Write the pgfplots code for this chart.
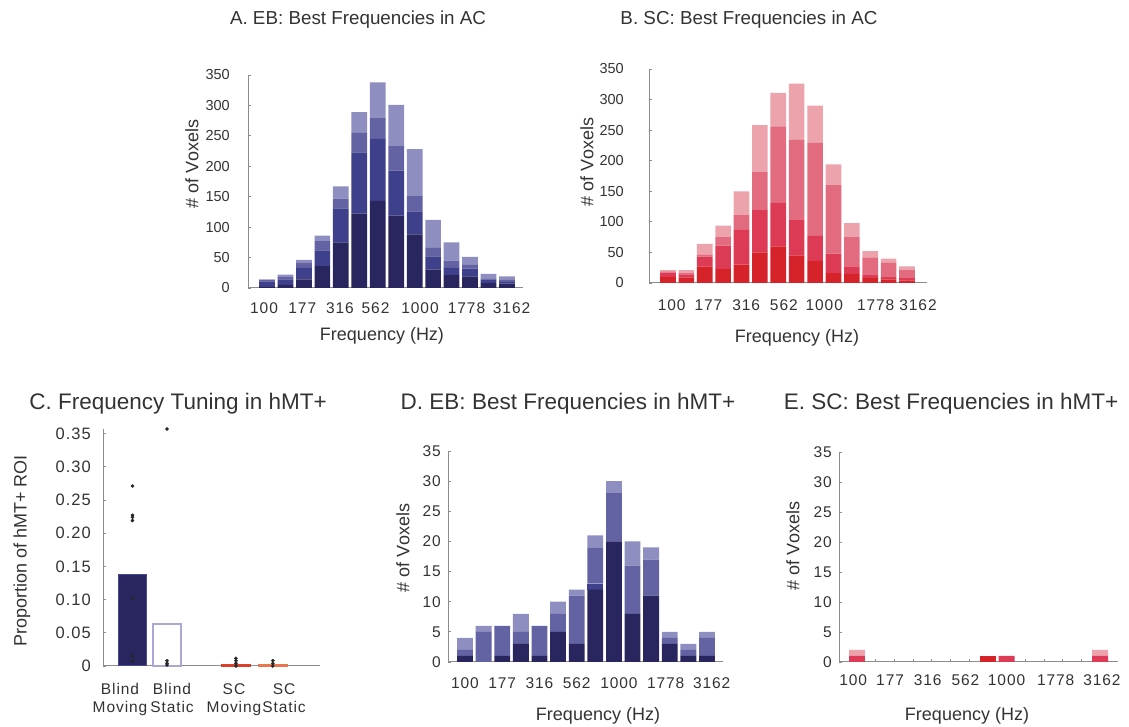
\documentclass[border=0pt]{standalone}
\usepackage{pgfplots}
\pgfplotsset{compat=1.18}
\usepackage{pgfplotstable}
\usepackage{fontspec}
\setmainfont{Liberation Sans}
\newfontfamily\tickfont[LetterSpace=6]{Liberation Sans}

\definecolor{ebA}{HTML}{29255F}
\definecolor{ebB}{HTML}{3F408B}
\definecolor{ebC}{HTML}{6362A2}
\definecolor{ebD}{HTML}{8E8EC1}
\definecolor{scA}{HTML}{D62229}
\definecolor{scB}{HTML}{DD3B55}
\definecolor{scC}{HTML}{E36B7F}
\definecolor{scD}{HTML}{ECA3AC}
\definecolor{axgray}{HTML}{8C8C8C}
\definecolor{txt}{HTML}{333333}
\definecolor{bmedge}{HTML}{4A4A94}
\definecolor{bsedge}{HTML}{A9A8D6}
\definecolor{scm}{HTML}{D9402C}
\definecolor{scs}{HTML}{E8774F}

\pgfplotstableread{
x a b c d
0 2 9 2 1
1 5 9 4 4
2 14 19 9 4
3 36 26 15 9
4 75 56 16 20
5 122 101 32 34
6 143 102 34 59
7 119 74 40 68
8 88 38 25 77
9 30 22 14 46
10 21 12 12 30
11 19 13 6 13
12 8 6 2 7
13 7 3 4 5
}\dataA

\pgfplotstableread{
x a b c d
0 10 7 2 2
1 9 5 3 4
2 27 16 3 18
3 23 38 15 18
4 30 57 25 38
5 50 69 63 76
6 60 71 125 55
7 45 59 130 92
8 36 41 152 61
9 16 32 113 33
10 15 11 49 23
11 8 6 28 10
12 6 5 22 7
13 4 4 14 5
}\dataB

\pgfplotstableread{
x a b c d
0 1 0 1 2
1 0 0 5 1
2 1 0 5 0
3 3 0 2 3
4 1 0 5 0
5 5 0 3 2
6 3 0 8 1
7 12 1 6 2
8 20 0 8 2
9 8 0 8 4
10 11 0 6 2
11 3 0 1 1
12 1 0 1 1
13 1 0 3 1
}\dataD

\pgfplotstableread{
x a b c d
0 0 1 0 1
1 0 0 0 0
2 0 0 0 0
3 0 0 0 0
4 0 0 0 0
5 0 0 0 0
6 0 0 0 0
7 1 0 0 0
8 0 1 0 0
9 0 0 0 0
10 0 0 0 0
11 0 0 0 0
12 0 0 0 0
13 0 1 0 1
}\dataE

\pgfplotsset{
  base/.style={
    scale only axis, anchor=south west,
    enlargelimits=false,
    axis lines=left,
    axis line style={-, draw=axgray, line width=1pt},
    tick align=inside, major tick length=3pt, minor tick length=3pt,
    tick style={draw=axgray, line width=0.8pt},
    major x tick style={draw=none},
    ymin=0,
    tick label style={font=\tickfont\fontsize{15.5}{18}\selectfont, text=txt},
    yticklabel style={anchor=east, inner sep=0pt},
  },
  hist/.style={
    base,
    ybar stacked, bar width=0.85,
    minor xtick={0,...,13},
    xticklabel style={anchor=base, inner sep=0pt},
    xticklabels={100,177,316,562,1000,1778,3162},
  },
  narrowy/.style={
    yticklabel style={font=\fontsize{14.5}{17}\selectfont},
  },
}

\newcommand{\titlefontA}{\fontsize{18.8}{22}\selectfont}
\newcommand{\titlefontB}{\fontsize{22.5}{26}\selectfont}
\newcommand{\labfont}{\fontsize{18}{21}\selectfont}

\begin{document}
\begin{tikzpicture}
\useasboundingbox (0pt,0pt) rectangle (1129pt,727pt);

% ---------- A ----------
\begin{axis}[hist, narrowy,
  at={(248pt,439pt)}, width=275pt, height=213pt,
  xmin=-1.03, xmax=13.87, ymax=350,
  xtick={-0.16,1.91,3.95,5.88,8.29,10.81,13.25},
  xticklabel style={yshift=-26pt},
  ytick={0,50,100,150,200,250,300,350},
  yticklabels={0,50,100,150,200,250,300,350},
  yticklabel style={xshift=-18pt},
]
\addplot[fill=ebA, draw=none] table[x=x,y=a]{\dataA};
\addplot[fill=ebB, draw=none] table[x=x,y=b]{\dataA};
\addplot[fill=ebC, draw=none] table[x=x,y=c]{\dataA};
\addplot[fill=ebD, draw=none] table[x=x,y=d]{\dataA};
\end{axis}

% ---------- B ----------
\begin{axis}[hist, narrowy,
  at={(649pt,444pt)}, width=278pt, height=214pt,
  xmin=-1.034, xmax=14.09, ymax=350,
  xtick={0.2,2.2,4.25,6.3,8.5,11.3,13.6},
  xticklabel style={yshift=-28pt},
  ytick={0,50,100,150,200,250,300,350},
  yticklabels={0,50,100,150,200,250,300,350},
  yticklabel style={xshift=-25pt},
]
\addplot[fill=scA, draw=none] table[x=x,y=a]{\dataB};
\addplot[fill=scB, draw=none] table[x=x,y=b]{\dataB};
\addplot[fill=scC, draw=none] table[x=x,y=c]{\dataB};
\addplot[fill=scD, draw=none] table[x=x,y=d]{\dataB};
\end{axis}

% ---------- C ----------
\begin{axis}[base,
  at={(103pt,61pt)}, width=217pt, height=237pt,
  xmin=0.181, xmax=6.21, ymax=0.357,
  clip=false,
  xtick={0.653,2.097,3.82,5.21},
  xticklabels={Blind\\Moving,Blind\\Static,SC\\Moving,SC\\Static},
  xticklabel style={align=center, anchor=north, inner sep=0pt, yshift=-17pt},
  ytick={0,0.05,0.1,0.15,0.2,0.25,0.3,0.35},
  yticklabels={0\hspace{8pt},0.05,0.10,0.15,0.20,0.25,0.30,0.35},
  yticklabel style={xshift=-12pt, font=\tickfont\fontsize{16.5}{19}\selectfont},
]
\addplot[ybar, bar width=0.8, bar shift=0pt, fill=ebA, draw=bmedge, line width=1pt] coordinates {(1,0.138)};
\addplot[ybar, bar width=0.78, bar shift=0pt, fill=white, draw=bsedge, line width=2pt] coordinates {(1.96,0.064)};
\addplot[ybar, bar width=0.8, bar shift=0pt, fill=scm, draw=scm, line width=1.3pt] coordinates {(3.875,0.002)};
\addplot[ybar, bar width=0.8, bar shift=0pt, fill=scs, draw=scs, line width=1.3pt] coordinates {(4.90,0.002)};
\addplot[only marks, mark=*, mark size=1.6pt, black!85] coordinates {
  (1,0.271) (1,0.227) (1,0.224) (1,0.219) (1,0.102) (1,0.015) (1,0.008)
  (1.96,0.357) (1.96,0.008) (1.96,0.004) (1.96,0.0015)
  (3.875,0.0115) (3.875,0.008) (3.875,0.004) (3.875,0.0)
  (4.90,0.008) (4.90,0.004) (4.90,0.0)
};
\end{axis}

% ---------- D ----------
\begin{axis}[hist,
  at={(448pt,65pt)}, width=275pt, height=211pt,
  xmin=-0.913, xmax=13.86, ymax=35,
  xtick={0,2,4,6,8.27,10.78,13.25},
  xticklabel style={yshift=-27pt},
  ytick={0,5,10,15,20,25,30,35},
  yticklabels={0,5,10,15,20,25,30,35},
  yticklabel style={xshift=-7pt},
]
\addplot[fill=ebA, draw=none] table[x=x,y=a]{\dataD};
\addplot[fill=ebB, draw=none] table[x=x,y=b]{\dataD};
\addplot[fill=ebC, draw=none] table[x=x,y=c]{\dataD};
\addplot[fill=ebD, draw=none] table[x=x,y=d]{\dataD};
\end{axis}

% ---------- E ----------
\begin{axis}[hist,
  at={(839pt,65pt)}, width=279pt, height=210pt,
  xmin=-0.963, xmax=13.96, ymax=35,
  xtick={-0.2,1.77,3.78,5.8,8.0,10.63,13.1},
  xticklabel style={yshift=-24pt},
  ytick={0,5,10,15,20,25,30,35},
  yticklabels={0,5,10,15,20,25,30,35},
  yticklabel style={xshift=-7pt},
]
\addplot[fill=scA, draw=none] table[x=x,y=a]{\dataE};
\addplot[fill=scB, draw=none] table[x=x,y=b]{\dataE};
\addplot[fill=scC, draw=none] table[x=x,y=c]{\dataE};
\addplot[fill=scD, draw=none] table[x=x,y=d]{\dataE};
\end{axis}

% ---------- titles and labels ----------
\begin{scope}[every node/.style={text=txt, inner sep=0pt}]
\node[anchor=base, font=\titlefontA] at (358pt,702.5pt) {A. EB: Best Frequencies in AC};
\node[anchor=base, font=\titlefontA] at (749pt,702.5pt) {B. SC: Best Frequencies in AC};
\node[anchor=base, font=\titlefontB] at (178pt,317pt) {C. Frequency Tuning in hMT+};
\node[anchor=base, font=\titlefontB] at (568pt,317pt) {D. EB: Best Frequencies in hMT+};
\node[anchor=base, font=\titlefontB] at (951pt,317pt) {E. SC: Best Frequencies in hMT+};

\node[anchor=base, font=\labfont] at (382pt,386pt) {Frequency (Hz)};
\node[anchor=base, font=\labfont] at (797pt,384pt) {Frequency (Hz)};
\node[anchor=base, font=\labfont] at (598pt,6pt) {Frequency (Hz)};
\node[anchor=base, font=\labfont] at (967pt,6pt) {Frequency (Hz)};

\node[rotate=90, font=\labfont] at (192pt,563pt) {\# of Voxels};
\node[rotate=90, font=\labfont] at (587pt,565pt) {\# of Voxels};
\node[rotate=90, font=\labfont] at (22pt,176pt) {Proportion of hMT+ ROI};
\node[rotate=90, font=\labfont] at (403pt,179pt) {\# of Voxels};
\node[rotate=90, font=\labfont] at (793pt,181pt) {\# of Voxels};
\end{scope}
\end{tikzpicture}
\end{document}
